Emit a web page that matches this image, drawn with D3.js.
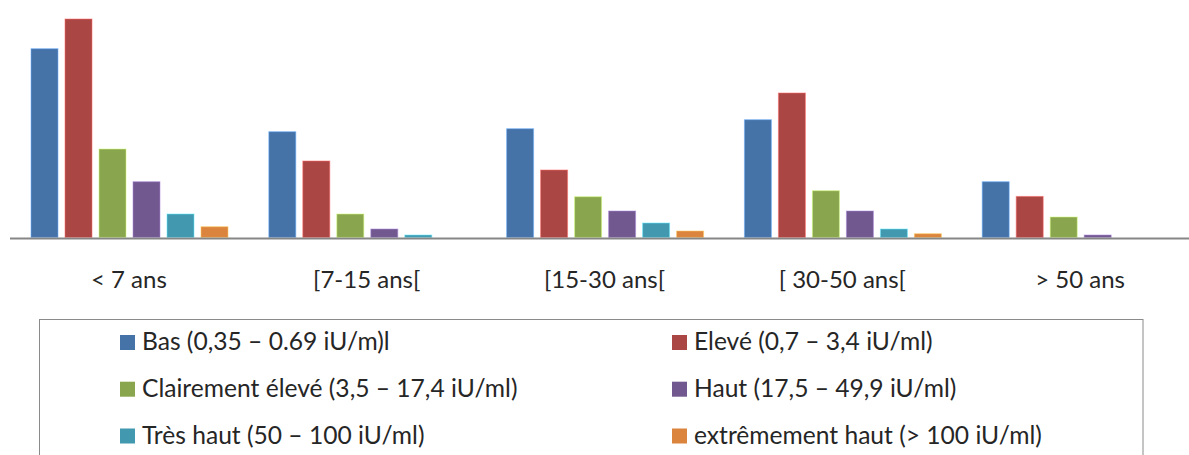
<!DOCTYPE html>
<html>
<head>
<meta charset="utf-8">
<script src="https://cdn.jsdelivr.net/npm/d3@7"></script>
<style>
  html, body { margin: 0; padding: 0; background: #fff; }
  svg { display: block; }
  text { font-family: Lato, "Open Sans", "DejaVu Sans", sans-serif; fill: #262626; }
</style>
</head>
<body>
<svg id="chart" width="1189" height="455"></svg>
<script>
// Age groups along the x axis
const categories = ["< 7 ans", "[7-15 ans[", "[15-30 ans[", "[ 30-50 ans[", "> 50 ans"];

// Antibody level classes (legend order)
const seriesNames = [
  "Bas (0,35 \u2013 0.69 iU/m)l",
  "Elev\u00e9 (0,7 \u2013 3,4 iU/ml)",
  "Clairement \u00e9lev\u00e9 (3,5 \u2013 17,4 iU/ml)",
  "Haut (17,5 \u2013 49,9 iU/ml)",
  "Tr\u00e8s haut (50 \u2013 100 iU/ml)",
  "extr\u00eamement haut (> 100 iU/ml)"
];

// Values per class, one per age group
const bas           = [188.7, 105.7, 108.7, 117.7, 55.7];
const eleve         = [218.4,  76.4,  67.4, 144.4, 41.0];
const clairement    = [ 88.4,  23.4,  40.7,  46.7, 20.4];
const haut          = [ 55.7,   8.4,  26.4,  26.4,  2.4];
const tresHaut      = [ 23.4,   2.4,  14.4,   8.4,  0.0];
const extremement   = [ 10.7,   0.0,   6.4,   3.7,  0.0];

const seriesValues = [bas, eleve, clairement, haut, tresHaut, extremement];
const seriesColors = ["#4572A7", "#AA4643", "#89A54E", "#71588F", "#4198AF", "#DB843D"];

const svg = d3.select("#chart");

// Plot geometry
const plotLeft = 10, groupStep = 237.8;
const baseY = 237.4, topY = 17.4;

const x0 = d3.scaleBand()
  .domain(categories)
  .range([plotLeft, plotLeft + groupStep * categories.length])
  .padding(0);

const x1 = d3.scaleBand()
  .domain(d3.range(seriesNames.length))
  .range([21, 21 + 34 * seriesNames.length])
  .padding(0);

const barW = x1.bandwidth() - 7;

const y = d3.scaleLinear().domain([0, 220]).range([baseY, topY]);

// Bars
const groups = svg.append("g").selectAll("g")
  .data(categories)
  .join("g")
  .attr("transform", c => `translate(${x0(c)},0)`);

groups.selectAll("rect")
  .data((c, ci) => seriesValues.map((vals, si) => ({ si, v: vals[ci] })))
  .join("rect")
  .filter(d => d.v > 0)
  .attr("x", d => x1(d.si))
  .attr("y", d => y(d.v))
  .attr("width", barW)
  .attr("height", d => baseY - y(d.v))
  .attr("fill", d => seriesColors[d.si])
  .attr("stroke", d => d3.color(seriesColors[d.si]).brighter(1.2))
  .attr("stroke-opacity", 0.55)
  .attr("stroke-width", 1);

// Category axis: a gray baseline with labels, no ticks
const xAxis = d3.axisBottom(x0).tickSize(0).tickPadding(0);
const axisG = svg.append("g")
  .attr("transform", `translate(0,${baseY + 1})`)
  .call(xAxis);
axisG.select(".domain")
  .attr("stroke", "#868686")
  .attr("stroke-width", 2)
  .attr("d", `M${plotLeft},0H1189`);
axisG.selectAll(".tick text")
  .attr("y", 50)
  .attr("dy", 0)
  .style("font-size", "24px")
  .style("font-family", "Lato, 'Open Sans', sans-serif")
  .attr("fill", "#262626");

// Legend box
svg.append("rect")
  .attr("x", 39.5).attr("y", 319.5)
  .attr("width", 1103.5).attr("height", 160)
  .attr("fill", "none")
  .attr("stroke", "#8a8a8a")
  .attr("stroke-width", 1);

const legendCols = [120, 672];
const legendRows = [350, 396.7, 443.5];

const legend = svg.append("g").selectAll("g")
  .data(seriesNames.map((name, i) => ({ name, i })))
  .join("g")
  .attr("transform", d => `translate(${legendCols[d.i % 2]},${legendRows[Math.floor(d.i / 2)]})`);

legend.append("rect")
  .attr("x", 0).attr("y", -15)
  .attr("width", 15).attr("height", 15)
  .attr("fill", d => seriesColors[d.i]);

legend.append("text")
  .attr("x", 22).attr("y", 0)
  .style("font-size", "24.6px")
  .text(d => d.name);
</script>
</body>
</html>
